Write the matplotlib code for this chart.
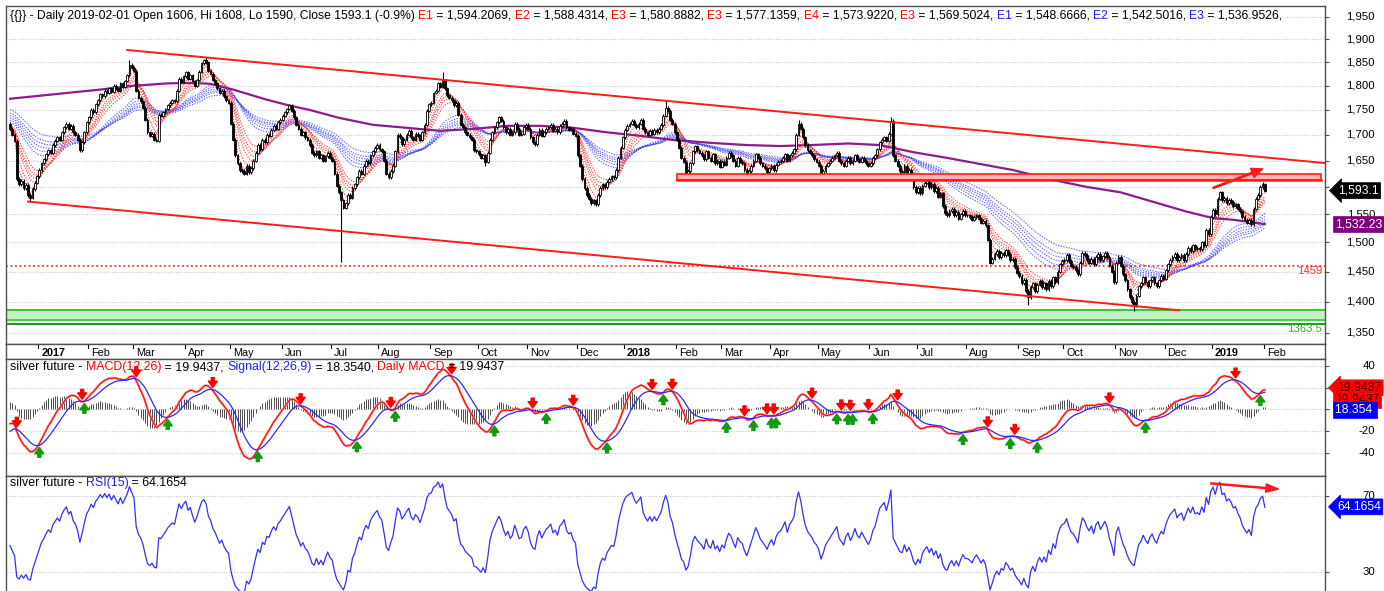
import matplotlib
matplotlib.use('Agg')
import matplotlib.pyplot as plt
import numpy as np
import pandas as pd
from matplotlib.patches import Rectangle
from matplotlib.transforms import blended_transform_factory, offset_copy

plt.rcParams['font.family'] = ['Liberation Sans', 'DejaVu Sans']

# daily closes, one list per month
dec16 = [1712, 1700, 1688, 1615, 1605, 1612, 1598, 1604, 1585, 1580, 1596, 1608, 1620]
jan17 = [1632, 1645, 1652, 1662, 1670, 1665, 1680, 1688, 1695, 1690, 1705, 1715, 1722, 1712,
         1718, 1705, 1700, 1690, 1670, 1685, 1705, 1725]
feb17 = [1735, 1750, 1745, 1762, 1770, 1782, 1778, 1790, 1785, 1795, 1788, 1800, 1795, 1790,
         1805, 1798, 1810, 1822, 1845, 1838]
mar17 = [1832, 1790, 1775, 1768, 1755, 1730, 1705, 1698, 1702, 1690, 1688, 1740, 1738, 1745,
         1752, 1760, 1765, 1770, 1768, 1790, 1815, 1808, 1820]
apr17 = [1828, 1815, 1822, 1810, 1800, 1812, 1830, 1848, 1855, 1850, 1832, 1825, 1812, 1805,
         1795, 1785, 1790, 1778, 1770, 1765]
may17 = [1722, 1690, 1660, 1645, 1632, 1630, 1625, 1640, 1628, 1635, 1650, 1665, 1680, 1672,
         1690, 1685, 1700, 1698, 1710, 1718, 1712, 1725, 1730]
jun17 = [1738, 1745, 1752, 1760, 1748, 1735, 1720, 1712, 1700, 1705, 1695, 1690, 1680, 1665,
         1660, 1668, 1655, 1660, 1650, 1658, 1665, 1655]
jul17 = [1650, 1625, 1602, 1590, 1575, 1562, 1570, 1585, 1580, 1598, 1605, 1618, 1630, 1625,
         1640, 1650, 1645, 1660, 1668, 1675, 1680]
aug17 = [1672, 1668, 1650, 1625, 1618, 1630, 1640, 1668, 1700, 1695, 1682, 1690, 1700, 1708,
         1695, 1690, 1702, 1698, 1690, 1705, 1720, 1748, 1762]
sep17 = [1765, 1785, 1790, 1805, 1798, 1812, 1795, 1780, 1775, 1770, 1760, 1765, 1740, 1720,
         1715, 1705, 1700, 1695, 1690, 1670, 1668]
oct17 = [1662, 1655, 1660, 1648, 1665, 1690, 1705, 1715, 1725, 1735, 1728, 1715, 1705, 1712,
         1700, 1705, 1722, 1712, 1700, 1702, 1715, 1720]
nov17 = [1712, 1695, 1685, 1682, 1700, 1710, 1698, 1705, 1712, 1715, 1720, 1708, 1712, 1705,
         1718, 1722, 1728, 1715, 1710, 1712, 1702, 1698]
dec17 = [1660, 1640, 1615, 1598, 1585, 1578, 1570, 1575, 1568, 1585, 1598, 1605, 1600, 1610,
         1615, 1620, 1618, 1632, 1655, 1675, 1695]
jan18 = [1710, 1718, 1722, 1728, 1720, 1715, 1722, 1730, 1712, 1705, 1700, 1708, 1702, 1710,
         1705, 1712, 1720, 1738, 1755, 1748, 1730, 1722, 1705]
feb18 = [1690, 1675, 1655, 1648, 1625, 1630, 1645, 1668, 1678, 1670, 1665, 1660, 1652, 1668,
         1655, 1650, 1662, 1645, 1650, 1638]
mar18 = [1648, 1642, 1655, 1665, 1660, 1650, 1640, 1655, 1648, 1645, 1632, 1622, 1630, 1640,
         1650, 1662, 1655, 1645, 1640, 1635, 1628, 1635]
apr18 = [1640, 1632, 1642, 1648, 1650, 1655, 1662, 1650, 1660, 1665, 1672, 1700, 1722, 1712,
         1695, 1680, 1670, 1665, 1660, 1652, 1648]
may18 = [1640, 1622, 1630, 1640, 1645, 1650, 1655, 1660, 1665, 1650, 1645, 1640, 1650, 1655,
         1645, 1650, 1660, 1652, 1648, 1655, 1650, 1645, 1640]
jun18 = [1645, 1655, 1660, 1672, 1685, 1690, 1695, 1688, 1702, 1728, 1660, 1650, 1640, 1630,
         1628, 1640, 1625, 1632, 1620, 1600, 1590]
jul18 = [1598, 1588, 1602, 1608, 1612, 1600, 1606, 1592, 1598, 1582, 1588, 1565, 1552, 1548,
         1556, 1560, 1548, 1554, 1542, 1550, 1556, 1548]
aug18 = [1548, 1545, 1540, 1545, 1548, 1542, 1535, 1538, 1530, 1505, 1465, 1472, 1480, 1485,
         1475, 1482, 1478, 1486, 1480, 1470, 1472, 1458, 1448]
sep18 = [1442, 1430, 1436, 1418, 1408, 1424, 1430, 1418, 1428, 1434, 1424, 1430, 1420, 1434,
         1426, 1440, 1432, 1450, 1462, 1468]
oct18 = [1470, 1478, 1468, 1460, 1458, 1452, 1445, 1465, 1482, 1478, 1470, 1465, 1472, 1462,
         1475, 1480, 1470, 1476, 1482, 1475, 1460, 1450, 1432]
nov18 = [1465, 1475, 1460, 1445, 1435, 1420, 1408, 1400, 1395, 1410, 1425, 1430, 1440, 1432,
         1425, 1435, 1440, 1430, 1425, 1435, 1442, 1438]
dec18 = [1452, 1462, 1470, 1475, 1480, 1470, 1475, 1478, 1470, 1480, 1490, 1485, 1495, 1488,
         1490, 1488, 1500, 1495, 1522, 1515, 1545]
jan19 = [1558, 1550, 1578, 1590, 1575, 1580, 1570, 1576, 1572, 1565, 1568, 1560, 1555, 1545,
         1540, 1535, 1540, 1532, 1560, 1578, 1585, 1600, 1606]
feb19 = [1593.1]

first_open = 1722
# notable wicks (bar number -> price)
wick_high = {53: 1855, 87: 1862, 192: 1828, 291: 1768, 350: 1730, 391: 1735, 557: 1608}
wick_low = {9: 1572, 147: 1467, 211: 1640, 452: 1395, 499: 1385, 557: 1590}

# long moving average (purple), read at sample bars
ma_bar = [0, 40, 55, 70, 81, 89, 99, 114, 124, 133, 146, 161, 176, 191, 206, 221, 235, 250,
          265, 280, 294, 312, 327, 342, 356, 372, 386, 401, 416, 431, 445, 463, 478, 493,
          507, 522, 534, 543, 557]
ma_val = [1773, 1792, 1800, 1805, 1806, 1804, 1792, 1771, 1759, 1750, 1734, 1720, 1714, 1708,
          1712, 1718, 1718, 1714, 1705, 1698, 1690, 1684, 1680, 1678, 1680, 1683, 1680, 1666,
          1655, 1643, 1632, 1613, 1600, 1590, 1573, 1555, 1543, 1540, 1532.23]

# GMMA spans and their starting levels
short_spans = [3, 5, 8, 10, 12, 15]
short_seed = [1705, 1708, 1712, 1715, 1716, 1720]
long_spans = [30, 35, 40, 45, 50, 60]
long_seed = [1725, 1730, 1735, 1740, 1745, 1752]
macd_seed = (1712, 1726, -22)
rsi_seed = (6.0, 7.0)

# last values shown in the side boxes
last_macd = 19.9437
last_signal = 18.354
last_rsi = 64.1654

# drawn studies
channel_up = [(52, 1876.5), (584, 1645)]
channel_dn = [(8, 1573), (519, 1386)]
resist_zone = (296, 582, 1613, 1624)
support_level = 1459
green_zone = (1368, 1386)
green_level = 1363.5
price_arrow = [(534, 1598), (556, 1634)]
rsi_arrow = [(533, 76.5), (563, 73.5)]

price_header = [("{{}} - Daily 2019-02-01 Open 1606, Hi 1608, Lo 1590, Close 1593.1 (-0.9%) ", 'k'),
                ("E1", 'r'), (" = 1,594.2069, ", 'k'), ("E2", 'r'), (" = 1,588.4314, ", 'k'),
                ("E3", 'r'), (" = 1,580.8882, ", 'k'), ("E3", 'r'), (" = 1,577.1359, ", 'k'),
                ("E4", 'r'), (" = 1,573.9220, ", 'k'), ("E3", 'r'), (" = 1,569.5024, ", 'k'),
                ("E1", 'b'), (" = 1,548.6666, ", 'k'), ("E2", 'b'), (" = 1,542.5016, ", 'k'),
                ("E3", 'b'), (" = 1,536.9526,", 'k')]
macd_header = [("silver future - ", 'k'), ("MACD(12,26)", 'r'), (" = 19.9437, ", 'k'),
               ("Signal(12,26,9)", 'b'), (" = 18.3540, ", 'k'), ("Daily MACD", 'r'),
               (" = 19.9437", 'k')]
rsi_header = [("silver future - ", 'k'), ("RSI(15)", 'b'), (" = 64.1654", 'k')]

closes = np.array(dec16 + jan17 + feb17 + mar17 + apr17 + may17 + jun17 + jul17 + aug17 +
                  sep17 + oct17 + nov17 + dec17 + jan18 + feb18 + mar18 + apr18 + may18 +
                  jun18 + jul18 + aug18 + sep18 + oct18 + nov18 + dec18 + jan19 + feb19,
                  dtype=float)
dates = pd.bdate_range('2016-12-14', '2019-02-01')
if len(dates) != len(closes):
    raise ValueError('got %d closes for %d dates' % (len(closes), len(dates)))
n = len(closes)
x = np.arange(n)
opens = np.r_[first_open, closes[:-1]]
highs = np.maximum(opens, closes) + 3
lows = np.minimum(opens, closes) - 3
for k, v in wick_high.items():
    highs[k] = v
for k, v in wick_low.items():
    lows[k] = v


def ema(values, span, seed):
    a = 2.0 / (span + 1)
    out = np.empty(len(values))
    prev = seed
    for i, v in enumerate(values):
        prev = prev + a * (v - prev)
        out[i] = prev
    return out


ema12 = ema(closes, 12, macd_seed[0])
ema26 = ema(closes, 26, macd_seed[1])
macd = ema12 - ema26
signal = ema(macd, 9, macd_seed[2])
hist = macd - signal

deltas = closes - opens
ag, al = rsi_seed
rsi = np.empty(n)
for i, d in enumerate(deltas):
    ag = (ag * 14 + max(d, 0)) / 15
    al = (al * 14 + max(-d, 0)) / 15
    rsi[i] = 100 - 100 / (1 + ag / al)

# ---- layout in pixels
W, H = 1384, 591
L, R = 6, 1325


def box(l, t, r, b):
    return [l / W, 1 - b / H, (r - l) / W, (b - t) / H]


fig = plt.figure(figsize=(W / 100, H / 100), dpi=100)
ax_p = fig.add_axes(box(L, 6, R, 344))
ax_d = fig.add_axes(box(L, 344, R, 359), sharex=ax_p)
ax_m = fig.add_axes(box(L, 359, R, 476), sharex=ax_p)
ax_r = fig.add_axes(box(L, 476, R, 591), sharex=ax_p)
renderer = fig.canvas.get_renderer()

for a in (ax_p, ax_d, ax_m, ax_r):
    for s in a.spines.values():
        s.set_color('#505050')
        s.set_linewidth(1.0)
    a.tick_params(left=False, bottom=False, labelleft=False, labelbottom=False,
                  right=True, direction='out', length=3, color='#505050', labelright=False)
ax_r.spines['bottom'].set_visible(False)
ax_d.tick_params(right=False)
ax_p.set_xlim(-1.8, 583.7)


def ax_x(px):
    return (px - L) / (R - L)


def right_labels(a, ticks, fmt, hidden=()):
    # labels covered by the value boxes in the original are left out
    tr = blended_transform_factory(a.transAxes, a.transData)
    a.set_yticks(ticks)
    for v in ticks:
        if v in hidden:
            continue
        a.text(ax_x(1375), v, fmt(v), transform=tr, ha='right', va='center',
               fontsize=8.2, clip_on=False)


def header(a, y_px, top_px, parts, size):
    y = 1 - (y_px - top_px) / (a.bbox.height)
    full = ''
    for s, c in parts:
        dx = 0
        if full:
            probe = a.text(0, 0, full + '|', fontsize=size)
            bar = a.text(0, 0, '|', fontsize=size)
            dx = (probe.get_window_extent(renderer).width -
                  bar.get_window_extent(renderer).width)
            probe.remove()
            bar.remove()
        col = {'k': 'black', 'r': '#ff0000', 'b': '#2020ff'}[c]
        a.text(ax_x(10), y, s, fontsize=size, color=col, va='center', ha='left', zorder=10,
               transform=offset_copy(a.transAxes, fig=fig, x=dx, y=0, units='dots'))
        full += s


def value_box(a, val, text, fc, tc, dy=0, arrow=True, x_px=1337):
    tr = offset_copy(blended_transform_factory(a.transAxes, a.transData), fig=fig,
                     x=0, y=dy, units='dots')
    style = 'larrow,pad=0.16' if arrow else 'square,pad=0.16'
    a.text(ax_x(x_px), val, text, transform=tr, ha='left', va='center', fontsize=8.8,
           color=tc, clip_on=False, zorder=20,
           bbox=dict(boxstyle=style, fc=fc, ec=fc, lw=0.5))


# ---- price panel
ax_p.set_yscale('log')
ax_p.set_ylim(1332.7, 1975.1)
ax_p.yaxis.set_minor_locator(matplotlib.ticker.NullLocator())
levels = list(range(1350, 1951, 50))
for v in levels:
    ax_p.axhline(v, color='#c8c8c8', lw=0.8, ls=(0, (1, 1.5)), zorder=0)
right_labels(ax_p, levels, lambda v: f'{v:,}', hidden=(1600,))

ax_p.fill_between([-2, 584], green_zone[0], green_zone[1], color='#c6f0c6', lw=0, zorder=1)
ax_p.axhline(green_zone[1], color='#33cc33', lw=1.5, zorder=1)
ax_p.axhline(green_zone[0] + 2, color='#33cc33', lw=1.2, zorder=1)
ax_p.axhline(green_level, color='#229922', lw=1.5, zorder=1)
ax_p.axhline(support_level, color='#ff3030', lw=1.3, ls=(0, (1, 1.5)), zorder=1)
tr_p = blended_transform_factory(ax_p.transAxes, ax_p.transData)
ax_p.text(ax_x(1322), support_level, '%g' % support_level, transform=tr_p, ha='right',
          va='top', fontsize=8.2, color='#ff3030')
ax_p.text(ax_x(1322), green_level, '%g' % green_level, transform=tr_p, ha='right',
          va='top', fontsize=8.2, color='#33aa33')

for s, c0 in zip(long_spans, long_seed):
    ax_p.plot(x, ema(closes, s, c0), color='#3a3aff', lw=0.8, ls=(0, (1.2, 1.2)), alpha=0.8,
              zorder=2)
for s, c0 in zip(short_spans, short_seed):
    ax_p.plot(x, ema(closes, s, c0), color='#ff2020', lw=0.8, ls=(0, (1.2, 1.2)), alpha=0.8,
              zorder=2)
ax_p.plot(ma_bar, ma_val, color='#8b1c8b', lw=1.6, zorder=3)

up = closes >= opens
ax_p.vlines(x, lows, highs, color='black', lw=0.8, zorder=4)
ax_p.bar(x[up], closes[up] - opens[up], bottom=opens[up], width=0.8, color='white',
         edgecolor='black', lw=0.6, zorder=5)
ax_p.bar(x[~up], opens[~up] - closes[~up], bottom=closes[~up], width=0.8, color='black',
         edgecolor='black', lw=0.6, zorder=5)

for (x0, y0), (x1, y1) in (channel_up, channel_dn):
    ax_p.plot([x0, x1], [y0, y1], color='#ff1a1a', lw=1.4, zorder=6)
b0, b1, p0, p1 = resist_zone
ax_p.add_patch(Rectangle((b0, p0), b1 - b0, p1 - p0, fc='#ffb4b4', ec='#ff1a1a', lw=1.2,
                         zorder=6))
ax_p.plot([b0, b1], [p0, p0], color='#ff1a1a', lw=1.8, zorder=6)
ax_p.annotate('', xy=price_arrow[1], xytext=price_arrow[0], zorder=7,
              arrowprops=dict(fc='#ff1a1a', ec='#ff1a1a', width=1.0, headwidth=7,
                              headlength=8, shrink=0))

header(ax_p, 16, 6, price_header, 8.7)
value_box(ax_p, closes[-1], '1,593.1', 'black', 'white', x_px=1338)
value_box(ax_p, ma_val[-1], '1,532.23', '#800080', 'white', arrow=False, x_px=1335)

# ---- date band
ax_d.set_ylim(0, 1)
ax_d.set_yticks([])
starts = [i for i in range(1, n) if dates[i].month != dates[i - 1].month]
for i in starts:
    d = dates[i]
    ax_d.plot([i - 0.5, i - 0.5], [1, 0.72], color='black', lw=0.8)
    lab = str(d.year) if d.month == 1 else d.strftime('%b')
    ax_d.text(i + 0.8, 0.42, lab, fontsize=7.8, va='center', ha='left',
              fontweight='bold' if d.month == 1 else 'normal',
              family=['Liberation Sans Narrow', 'Liberation Sans'])

# ---- MACD panel
ax_m.set_ylim(-61.3, 46.5)
for v in (40, 20, 0, -20, -40):
    ax_m.axhline(v, color='#c8c8c8', lw=0.8, ls=(0, (1, 1.5)), zorder=0)
right_labels(ax_m, [40, 20, 0, -20, -40], lambda v: '%d' % v, hidden=(20, 0))
ax_m.vlines(x, 0, hist, color='#303030', lw=0.6, zorder=1)
ax_m.plot(x, macd, color='#ffa0a0', lw=1.8, zorder=2)
ax_m.plot(x, macd, color='#ff0000', lw=0.8, zorder=3)
ax_m.plot(x, signal, color='#2a2aff', lw=0.9, zorder=3)
sgn = np.sign(macd - signal)
for i in range(1, n):
    if sgn[i] > 0 and sgn[i - 1] <= 0:
        lo = min(macd[i], signal[i])
        ax_m.annotate('', xy=(i, lo - 2), xytext=(i, lo - 11), zorder=5,
                      arrowprops=dict(fc='#109a10', ec='#109a10', width=2.2, headwidth=6.5,
                                      headlength=4.5, shrink=0))
    elif sgn[i] < 0 and sgn[i - 1] >= 0:
        hi = max(macd[i], signal[i])
        ax_m.annotate('', xy=(i, hi + 2), xytext=(i, hi + 11), zorder=5,
                      arrowprops=dict(fc='#ff0000', ec='#ff0000', width=2.2, headwidth=6.5,
                                      headlength=4.5, shrink=0))
header(ax_m, 367, 359, macd_header, 8.9)
value_box(ax_m, last_macd, '19.9437', '#ff0000', '#300000', x_px=1337)
value_box(ax_m, last_macd, '19.9437', '#ff0000', '#300000', dy=-12, arrow=False, x_px=1335)
value_box(ax_m, last_signal, '18.354 ', '#0000ff', 'white', dy=-20, arrow=False, x_px=1335)

# ---- RSI panel
ax_r.set_ylim(19.9, 80.4)
for v in (70, 30):
    ax_r.axhline(v, color='#c8c8c8', lw=0.8, ls=(0, (1, 1.5)), zorder=0)
right_labels(ax_r, [70, 30], lambda v: '%d' % v)
ax_r.plot(x, rsi, color='#3030ff', lw=0.9)
ax_r.annotate('', xy=rsi_arrow[1], xytext=rsi_arrow[0],
              arrowprops=dict(fc='#ff1a1a', ec='#ff1a1a', width=0.8, headwidth=6,
                              headlength=9, shrink=0))
header(ax_r, 483, 476, rsi_header, 8.9)
value_box(ax_r, last_rsi, '%.4f' % last_rsi, '#0000ff', 'white', x_px=1337)

fig.savefig('out.png', dpi=100)
